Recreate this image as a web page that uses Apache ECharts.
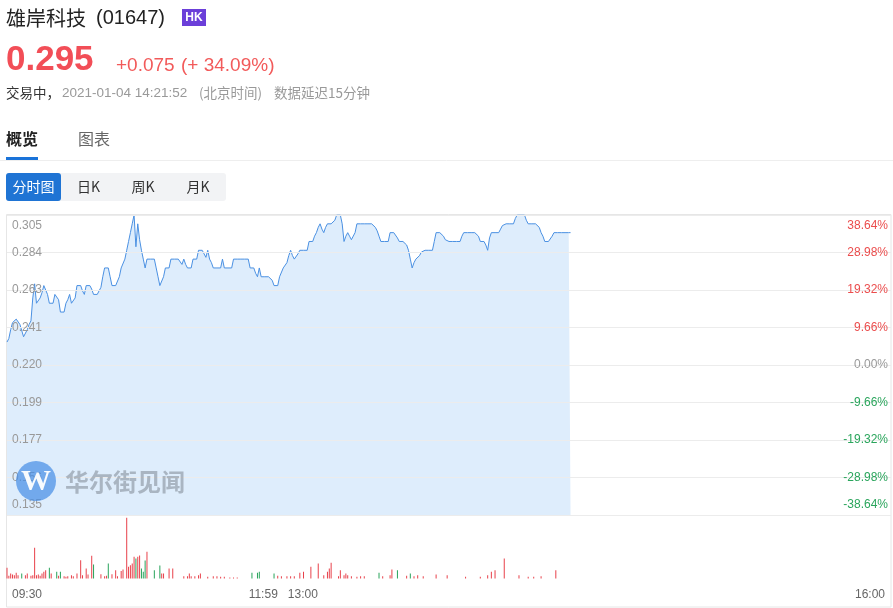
<!DOCTYPE html>
<html><head><meta charset="utf-8">
<script src="https://cdn.jsdelivr.net/npm/echarts@6/dist/echarts.min.js"></script>
<style>html,body{margin:0;padding:0;background:#fff}#c{width:893px;height:608px}</style>
</head><body><div id="c"></div>
<script>
// ---- data ----
const preClose = 0.220;
const priceMin = 0.135, priceMax = 0.305, priceStep = 0.02125;
const priceTicks = ['0.135','0.156','0.177','0.199','0.220','0.241','0.263','0.284','0.305'];
const pctMin = -38.64, pctMax = 38.64, pctStep = 9.66;
const pctTicks = ['-38.64%','-28.98%','-19.32%','-9.66%','0.00%','9.66%','19.32%','28.98%','38.64%'];
const slotCount = 480;
const timeSlots = [0, 150, 480];
const timeTexts = ['09:30', '11:59   13:00', '16:00'];
const prices = [
0.233,0.235,0.240,0.244,0.245,0.246,0.245,0.243,0.242,0.236,
0.236,0.240,0.243,0.245,0.258,0.266,0.255,0.255,0.258,0.261,
0.265,0.265,0.260,0.255,0.255,0.255,0.260,0.260,0.257,0.250,
0.250,0.250,0.255,0.257,0.260,0.255,0.255,0.258,0.265,0.265,
0.265,0.262,0.260,0.265,0.265,0.265,0.263,0.260,0.260,0.260,
0.260,0.264,0.270,0.275,0.275,0.275,0.270,0.265,0.265,0.265,
0.265,0.270,0.275,0.275,0.280,0.285,0.290,0.295,0.300,0.305,
0.287,0.300,0.291,0.285,0.280,0.275,0.280,0.280,0.280,0.280,
0.280,0.275,0.270,0.265,0.265,0.270,0.275,0.275,0.275,0.280,
0.280,0.280,0.280,0.280,0.280,0.277,0.280,0.277,0.275,0.275,
0.275,0.280,0.280,0.280,0.285,0.285,0.285,0.285,0.281,0.285,
0.280,0.278,0.275,0.275,0.275,0.275,0.275,0.280,0.275,0.275,
0.275,0.275,0.275,0.280,0.280,0.280,0.280,0.280,0.280,0.280,
0.280,0.280,0.275,0.275,0.275,0.272,0.270,0.275,0.270,0.270,
0.270,0.270,0.270,0.270,0.268,0.265,0.265,0.265,0.270,0.270,
0.275,0.275,0.278,0.282,0.285,0.282,0.280,0.280,0.283,0.285,
0.285,0.285,0.285,0.285,0.290,0.290,0.290,0.293,0.295,0.298,
0.300,0.297,0.295,0.298,0.300,0.300,0.300,0.300,0.302,0.305,
0.305,0.305,0.300,0.290,0.293,0.295,0.293,0.291,0.290,0.295,
0.300,0.300,0.300,0.300,0.300,0.300,0.300,0.300,0.300,0.300,
0.298,0.296,0.293,0.290,0.290,0.290,0.290,0.290,0.295,0.295,
0.295,0.295,0.292,0.290,0.290,0.290,0.290,0.288,0.285,0.280,
0.275,0.278,0.280,0.280,0.282,0.284,0.285,0.285,0.285,0.285,
0.285,0.285,0.290,0.295,0.295,0.295,0.295,0.293,0.291,0.290,
0.290,0.290,0.290,0.290,0.290,0.290,0.290,0.293,0.295,0.295,
0.295,0.295,0.295,0.295,0.295,0.295,0.293,0.290,0.290,0.290,
0.288,0.285,0.292,0.295,0.295,0.295,0.295,0.295,0.297,0.299,
0.300,0.300,0.300,0.300,0.300,0.300,0.303,0.305,0.305,0.305,
0.305,0.305,0.302,0.300,0.300,0.300,0.300,0.300,0.300,0.298,
0.295,0.293,0.290,0.290,0.290,0.290,0.293,0.295,0.295,0.295,
0.295,0.295,0.295,0.295,0.295,0.295,0.295
];
const volumes = [
107,27,50,40,33,57,33,0,50,0,
33,50,0,27,33,307,33,40,27,50,
67,83,0,107,50,0,0,67,27,67,
0,23,17,23,0,33,23,0,50,0,
183,33,0,100,40,0,227,140,0,0,
0,43,0,23,27,150,0,43,0,83,
23,0,75,90,0,607,117,133,150,217,
200,217,230,100,67,180,267,0,0,0,
83,0,0,130,50,50,0,0,100,0,
100,0,0,0,0,0,23,0,23,50,
23,0,23,0,33,50,0,0,0,17,
0,0,23,0,23,0,17,0,17,0,
0,10,0,10,0,10,0,0,0,0,
0,0,0,57,0,0,57,67,0,0,
0,0,0,0,0,50,0,27,0,23,
0,0,23,0,23,0,23,0,0,57,
0,67,0,0,0,117,0,0,0,150,
0,0,33,0,67,100,157,0,0,0,
23,83,0,33,50,33,0,23,0,0,
17,0,23,0,23,0,0,0,0,0,
0,0,57,0,23,0,0,0,33,90,
0,0,83,0,0,0,0,27,0,50,
0,23,0,33,0,0,23,0,0,0,
0,0,0,40,0,0,0,0,0,33,
0,0,0,0,0,0,0,0,0,17,
0,0,0,0,0,0,0,17,0,0,
0,33,0,67,0,83,0,0,0,0,
200,0,0,0,0,0,0,0,33,0,
0,0,0,17,0,0,17,0,0,0,
23,0,0,0,0,0,0,0,83,0,
0,0,0,0,0,0,0
];
const downBars = [8,23,27,29,47,55,70,73,74,75,80,83,133,136,137,145,202,212,219];
const volMax = 615;

// ---- styles ----
const LAT = '"Liberation Sans", Arial, sans-serif';
const CJK = '"Noto Sans CJK SC", "Liberation Sans", sans-serif';
const UP = '#e8404a', DOWN = '#27a35a';
const downSet = new Set(downBars);

const chart = echarts.init(document.getElementById('c'), null, {renderer: 'canvas'});

function T(x, y, text, font, fill, align) {
  return {type: 'text', x: x, y: y, silent: true, z: 10,
    style: {text: text, font: font, fill: fill, align: align || 'left', verticalAlign: 'middle'}};
}

const graphics = [
  {type: 'rect', silent: true, z: -1, shape: {x: 6.5, y: 214.5, width: 884.5, height: 392.5},
   style: {fill: 'none', stroke: '#e6e6e6', lineWidth: 1}},
  T(6, 18, '雄岸科技', '20px ' + CJK, '#222'),
  T(96, 18, '(01647)', '20px ' + LAT, '#222'),
  {type: 'rect', silent: true, z: 10, shape: {x: 182, y: 9, width: 24, height: 17}, style: {fill: '#6b3fd9'}},
  T(194, 18, 'HK', 'bold 12px ' + LAT, '#fff', 'center'),
  T(6, 60, '0.295', 'bold 35px ' + LAT, '#f24e57'),
  T(116, 66, '+0.075', '19px ' + LAT, '#f25a5a'),
  T(181, 66, '(+ 34.09%)', '19px ' + LAT, '#f25a5a'),
  T(6, 93, '交易中，', '13.5px ' + CJK, '#333'),
  T(62, 93, '2021-01-04 14:21:52', '13.5px ' + LAT, '#999'),
  T(199, 93, '(北京时间)', '13.5px ' + CJK, '#999'),
  T(274, 93, '数据延迟15分钟', '13.5px ' + CJK, '#999'),
  T(6, 139, '概览', 'bold 16px ' + CJK, '#222'),
  T(78, 139, '图表', '16px ' + CJK, '#666'),
  {type: 'rect', silent: true, z: 10, shape: {x: 6, y: 157, width: 32, height: 3}, style: {fill: '#1a73d9'}},
  {type: 'line', silent: true, z: 9, shape: {x1: 0, y1: 160.5, x2: 893, y2: 160.5}, style: {stroke: '#eeeeee', lineWidth: 1}},
  {type: 'rect', silent: true, z: 9, shape: {x: 6, y: 173, width: 220, height: 28, r: 3}, style: {fill: '#f2f3f5'}},
  {type: 'rect', silent: true, z: 10, shape: {x: 6, y: 173, width: 55, height: 28, r: 3}, style: {fill: '#1f74d4'}},
  T(33.5, 187, '分时图', '14px ' + CJK, '#fff', 'center'),
  T(88.5, 187, '日K', '14px ' + CJK, '#333', 'center'),
  T(143, 187, '周K', '14px ' + CJK, '#333', 'center'),
  T(198, 187, '月K', '14px ' + CJK, '#333', 'center'),
  {type: 'circle', silent: true, z: 100, shape: {cx: 36, cy: 481, r: 20}, style: {fill: 'rgba(72,143,230,0.72)'}},
  {type: 'text', silent: true, z: 101, x: 36, y: 482,
   style: {text: 'W', font: 'bold 30px "Liberation Serif", "DejaVu Serif", serif', fill: 'rgba(255,255,255,0.95)', align: 'center', verticalAlign: 'middle'}},
  {type: 'text', silent: true, z: 100, x: 65, y: 482,
   style: {text: '华尔街见闻', font: 'bold 24px ' + CJK, fill: 'rgba(125,135,145,0.55)', align: 'left', verticalAlign: 'middle'}}
];

function priceLabel(v) {
  const k = Math.round((v - priceMin) / priceStep);
  const t = priceTicks[k];
  if (t === undefined) return '';
  if (k === priceTicks.length - 1) return '{t|' + t + '}';
  if (k === 0) return '{b|' + t + '}';
  return '{n|' + t + '}';
}
function pctLabel(v) {
  const k = Math.round((v - pctMin) / pctStep);
  const t = pctTicks[k];
  if (t === undefined) return '';
  const mid = (pctTicks.length - 1) / 2;
  let s = k > mid ? 'u' : (k < mid ? 'd' : 'z');
  if (k === pctTicks.length - 1) s = 'ut';
  if (k === 0) s = 'db';
  return '{' + s + '|' + t + '}';
}
function timeLabel(v) {
  const k = timeSlots.indexOf(Math.round(v));
  if (k < 0) return '';
  if (k === 0) return '{l|' + timeTexts[k] + '}';
  if (k === timeSlots.length - 1) return '{r|' + timeTexts[k] + '}';
  return '{m|' + timeTexts[k] + '}';
}

const lab = {fontSize: 12, fontFamily: LAT};
const option = {
  animation: false,
  backgroundColor: '#fff',
  graphic: graphics,
  grid: [
    {left: 7, right: 2, top: 215, height: 300},
    {left: 7, right: 2, top: 517, height: 61.5}
  ],
  xAxis: [
    {type: 'value', gridIndex: 0, min: 0, max: slotCount, show: false, splitLine: {show: false}},
    {type: 'value', gridIndex: 1, min: 0, max: slotCount, interval: 30, z: 20,
     axisLine: {show: false}, axisTick: {show: false}, splitLine: {show: false},
     axisLabel: {margin: 10, formatter: timeLabel, color: '#666', fontSize: 12, fontFamily: LAT,
       rich: {
         l: Object.assign({color: '#666', padding: [0, 0, 0, 40]}, lab),
         m: Object.assign({color: '#666'}, lab),
         r: Object.assign({color: '#666', padding: [0, 42, 0, 0]}, lab)
       }}}
  ],
  yAxis: [
    {type: 'value', gridIndex: 0, position: 'left', min: priceMin, max: priceMax, interval: priceStep, z: 20,
     axisLine: {show: false}, axisTick: {show: false},
     splitLine: {show: true, lineStyle: {color: '#ececec', width: 1}},
     axisLabel: {inside: true, margin: 5, formatter: priceLabel, color: '#999', fontSize: 12, fontFamily: LAT,
       rich: {
         n: Object.assign({color: '#999'}, lab),
         t: Object.assign({color: '#999', padding: [22, 0, 0, 0]}, lab),
         b: Object.assign({color: '#999', padding: [0, 0, 20, 0]}, lab)
       }}},
    {type: 'value', gridIndex: 0, position: 'right', min: pctMin, max: pctMax, interval: pctStep, z: 20,
     axisLine: {show: false}, axisTick: {show: false}, splitLine: {show: false},
     axisLabel: {inside: true, margin: 3, formatter: pctLabel, fontSize: 12, fontFamily: LAT,
       rich: {
         u: Object.assign({color: '#eb4d4d'}, lab),
         d: Object.assign({color: '#2aa55c'}, lab),
         z: Object.assign({color: '#999'}, lab),
         ut: Object.assign({color: '#eb4d4d', padding: [22, 0, 0, 0]}, lab),
         db: Object.assign({color: '#2aa55c', padding: [0, 0, 20, 0]}, lab)
       }}},
    {type: 'value', gridIndex: 1, min: 0, max: volMax, show: false, splitLine: {show: false}}
  ],
  series: [
    {type: 'line', xAxisIndex: 0, yAxisIndex: 0, silent: true, symbol: 'none', z: 1,
     data: prices.map((v, i) => [i, v]),
     lineStyle: {color: '#4a90e2', width: 1},
     areaStyle: {color: '#deedfc', opacity: 1, origin: 'start'}},
    {type: 'bar', xAxisIndex: 1, yAxisIndex: 2, silent: true, barWidth: 1, z: 3,
     data: volumes.map((v, i) => ({value: [i, v], itemStyle: {color: downSet.has(i) ? DOWN : UP}}))}
  ]
};
chart.setOption(option);
</script>
</body></html>
